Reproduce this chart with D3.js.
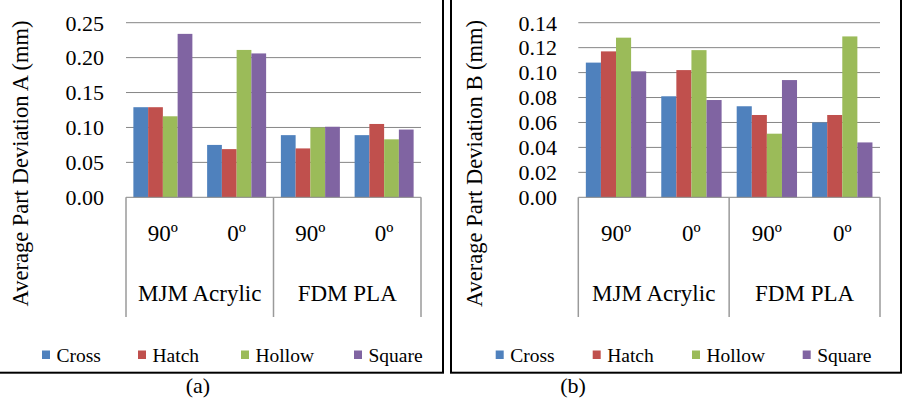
<!DOCTYPE html>
<html>
<head>
<meta charset="utf-8">
<script src="https://cdn.jsdelivr.net/npm/d3@7"></script>
<style>
  body { margin: 0; background: #fff; }
</style>
</head>
<body>
<div id="chart"></div>
<script>
// categories and series
const orientations = ["90º", "0º", "90º", "0º"];
const materials = ["MJM Acrylic", "FDM PLA"];
const seriesNames = ["Cross", "Hatch", "Hollow", "Square"];

// (a) average part deviation A (mm)
const crossA = [0.129, 0.075, 0.089, 0.089];
const hatchA = [0.129, 0.069, 0.070, 0.105];
const hollowA = [0.116, 0.211, 0.100, 0.083];
const squareA = [0.234, 0.206, 0.101, 0.097];
const ticksA = [0, 0.05, 0.10, 0.15, 0.20, 0.25];

// (b) average part deviation B (mm)
const crossB = [0.108, 0.081, 0.073, 0.060];
const hatchB = [0.117, 0.102, 0.066, 0.066];
const hollowB = [0.128, 0.118, 0.051, 0.129];
const squareB = [0.101, 0.078, 0.094, 0.044];
const ticksB = [0, 0.02, 0.04, 0.06, 0.08, 0.10, 0.12, 0.14];

const colors = ["#4F81BD", "#C0504D", "#9BBB59", "#8064A2"];

const W = 903, H = 398;
const svg = d3.select("#chart").append("svg")
  .attr("width", W)
  .attr("height", H)
  .attr("font-family", "'Liberation Serif', Tinos, 'Times New Roman', serif");

const yTop = 22.7, yBottom = 197.3, sepBottom = 317;

const drawPanel = (p) => {
  const g = svg.append("g");

  // panel frame
  g.append("rect")
    .attr("x", p.frame[0]).attr("y", p.frame[1])
    .attr("width", p.frame[2] - p.frame[0]).attr("height", p.frame[3] - p.frame[1])
    .attr("fill", "none").attr("stroke", "#000").attr("stroke-width", 2);

  const y = d3.scaleLinear().domain([0, d3.max(p.ticks)]).range([yBottom, yTop]);
  const x0 = d3.scaleBand().domain(d3.range(orientations.length)).range([p.left, p.right]);
  const x1 = d3.scaleBand().domain(seriesNames).range([0, x0.bandwidth()]).paddingOuter(0.5);

  // gridlines
  g.selectAll(".grid").data(p.ticks.slice(1)).enter().append("line")
    .attr("x1", p.left).attr("x2", p.right)
    .attr("y1", d => y(d)).attr("y2", d => y(d))
    .attr("stroke", "#868686").attr("stroke-width", 1);

  // y tick labels
  g.selectAll(".ytick").data(p.ticks).enter().append("text")
    .attr("x", p.tickRight)
    .attr("y", d => y(d) + 7.8)
    .attr("text-anchor", "end")
    .style("font-size", "22px")
    .text(d3.format(".2f"));

  // bars
  const table = orientations.map((o, i) => seriesNames.map((s, k) => ({ i, s, k, v: p.values[k][i] })));
  g.selectAll(".cluster").data(table).enter().append("g")
    .attr("transform", (d, i) => `translate(${x0(i)},0)`)
    .selectAll("rect").data(d => d).enter().append("rect")
    .attr("x", d => x1(d.s))
    .attr("width", x1.bandwidth())
    .attr("y", d => y(d.v))
    .attr("height", d => y(0) - y(d.v))
    .attr("fill", d => colors[d.k]);

  // category axis line + group separators
  g.append("line")
    .attr("x1", p.left).attr("x2", p.right)
    .attr("y1", yBottom).attr("y2", yBottom)
    .attr("stroke", "#868686");
  const groupEdges = [0, 2, 4].map(i => i < 4 ? x0(i) : p.right);
  g.selectAll(".sep").data(groupEdges).enter().append("line")
    .attr("x1", d => d).attr("x2", d => d)
    .attr("y1", yBottom).attr("y2", sepBottom)
    .attr("stroke", "#9a9a9a").attr("stroke-width", 1.5);

  g.selectAll(".cat").data(orientations).enter().append("text")
    .attr("x", (d, i) => x0(i) + x0.bandwidth() / 2)
    .attr("y", 241)
    .attr("text-anchor", "middle")
    .style("font-size", "23px")
    .text(d => d);

  g.selectAll(".grp").data(materials).enter().append("text")
    .attr("x", (d, i) => (groupEdges[i] + groupEdges[i + 1]) / 2)
    .attr("y", 301)
    .attr("text-anchor", "middle")
    .style("font-size", "23px")
    .text(d => d);

  // y title
  g.append("text")
    .attr("transform", `translate(${p.titleX},163.5) rotate(-90)`)
    .attr("text-anchor", "middle")
    .style("font-size", "22.5px")
    .text(p.title);

  // legend
  const leg = g.selectAll(".leg").data(seriesNames).enter().append("g")
    .attr("transform", (d, i) => `translate(${p.legendX + p.legendOffsets[i]},0)`);
  leg.append("rect")
    .attr("x", 0).attr("y", 350.5).attr("width", 8).attr("height", 8.5)
    .attr("fill", (d, i) => colors[i]);
  leg.append("text")
    .attr("x", 14.5).attr("y", 361.5)
    .style("font-size", "19.5px")
    .text(d => d);

  // caption
  svg.append("text")
    .attr("x", p.captionX).attr("y", 393)
    .attr("text-anchor", "middle")
    .style("font-size", "22px")
    .text(p.caption);
};

drawPanel({
  frame: [-2, -2, 443, 372.7],
  left: 126, right: 421, tickRight: 104,
  ticks: ticksA,
  values: [crossA, hatchA, hollowA, squareA],
  title: "Average Part Deviation A (mm)", titleX: 27.5,
  legendX: 42, legendOffsets: [0, 96, 199, 312],
  caption: "(a)", captionX: 198
});

drawPanel({
  frame: [451, -2, 901, 372.7],
  left: 578.3, right: 880, tickRight: 557,
  ticks: ticksB,
  values: [crossB, hatchB, hollowB, squareB],
  title: "Average Part Deviation B (mm)", titleX: 482,
  legendX: 495.7, legendOffsets: [0, 97, 196.3, 307],
  caption: "(b)", captionX: 573
});
</script>
</body>
</html>
